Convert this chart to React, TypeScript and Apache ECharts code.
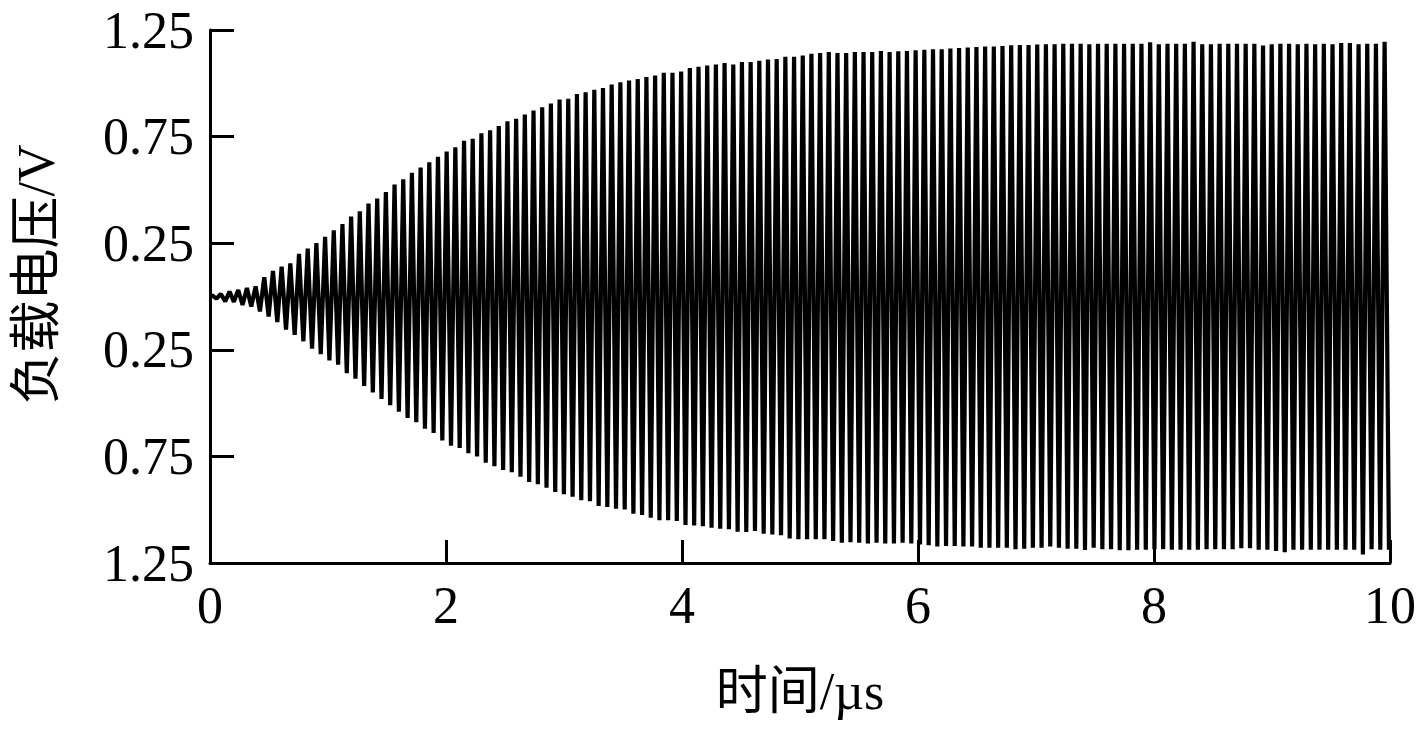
import React, { useEffect, useRef } from "react";
import * as echarts from "echarts";

// Oscillation period (µs) — 13.56 MHz carrier
const cyclePeriod = 0.0736;

// Positive peak of each cycle (V)
const upperPeaks = [
  0.005, 0.012,
  0.023, 0.03, 0.04, 0.047, 0.09, 0.12, 0.14, 0.155, 0.2, 0.225,
  0.25, 0.28, 0.31, 0.34, 0.375, 0.4, 0.436, 0.46, 0.49, 0.525,
  0.55, 0.58, 0.605, 0.63, 0.655, 0.68, 0.7, 0.73, 0.74, 0.765,
  0.78, 0.8,
  0.822, 0.834, 0.853, 0.872, 0.887, 0.905, 0.924, 0.928, 0.95, 0.958, 0.97,
  0.978, 0.994, 1.005, 1.013, 1.02, 1.03, 1.036, 1.049, 1.049, 1.055,
  1.072, 1.077, 1.083, 1.088, 1.095, 1.088, 1.1, 1.1, 1.106, 1.111,
  1.114, 1.124, 1.124, 1.13, 1.138, 1.142, 1.147, 1.142, 1.142, 1.147,
  1.147, 1.147, 1.152, 1.147, 1.15,
  1.152, 1.155, 1.157, 1.16, 1.16, 1.163, 1.165, 1.168, 1.17, 1.172,
  1.172, 1.175, 1.178, 1.18, 1.18, 1.182, 1.183, 1.183, 1.185, 1.185,
  1.186, 1.183, 1.186,
  1.186, 1.186, 1.186, 1.186, 1.186, 1.192, 1.183, 1.186, 1.186, 1.186,
  1.195, 1.183, 1.183, 1.186, 1.186, 1.186, 1.186, 1.186, 1.177, 1.183,
  1.186, 1.186, 1.183, 1.186, 1.183, 1.186, 1.183, 1.189, 1.189, 1.183,
  1.186, 1.186, 1.195,
];

// Negative peak of each cycle (V)
const lowerPeaks = [
  -0.01,
  -0.023, -0.025, -0.04, -0.047, -0.07, -0.094, -0.12, -0.155, -0.18, -0.21,
  -0.245, -0.27, -0.3, -0.32, -0.36, -0.385, -0.42, -0.45, -0.48, -0.51,
  -0.54, -0.57, -0.59, -0.62, -0.64, -0.675, -0.7, -0.71, -0.735, -0.75,
  -0.78,
  -0.796, -0.814, -0.824, -0.845, -0.87, -0.881, -0.897, -0.917, -0.928, -0.939,
  -0.955, -0.96, -0.983, -0.987, -0.995, -0.999, -1.019, -1.025, -1.038, -1.049,
  -1.049, -1.053, -1.072, -1.074, -1.077, -1.085, -1.089, -1.092, -1.103, -1.105,
  -1.1, -1.113, -1.116, -1.12, -1.135, -1.139,
  -1.139, -1.139, -1.139, -1.147, -1.155, -1.152, -1.155, -1.158, -1.155, -1.158,
  -1.158, -1.155, -1.158, -1.163,
  -1.167, -1.173, -1.17, -1.17, -1.173, -1.173, -1.178, -1.178, -1.178, -1.178,
  -1.186, -1.183, -1.178, -1.178, -1.173, -1.178, -1.183, -1.183, -1.189, -1.178,
  -1.186, -1.186,
  -1.19, -1.19, -1.188, -1.188, -1.186, -1.185, -1.188, -1.188, -1.188, -1.188,
  -1.186, -1.185, -1.186, -1.186, -1.181, -1.181, -1.188, -1.188, -1.194, -1.2,
  -1.188, -1.188, -1.188, -1.188, -1.188, -1.188, -1.188, -1.188, -1.21, -1.186,
  -1.188, -1.188,
];

const yTickValues = [-1.25, -0.75, -0.25, 0.25, 0.75, 1.25];
const xTickValues = [0, 2, 4, 6, 8, 10];

const xName = "时间/µs";
const yName = "负载电压/V";

const FONT = "'Times New Roman', 'Liberation Serif', 'Noto Sans CJK SC', serif";

export default function App() {
  const ref = useRef<HTMLDivElement>(null);

  useEffect(() => {
    if (!ref.current) return;
    const chart = echarts.init(ref.current, null, { renderer: "svg" });

    const data: [number, number][] = [[0, 0]];
    for (let k = 0; k < upperPeaks.length; k++) {
      data.push([(k + 0.25) * cyclePeriod, upperPeaks[k]]);
      if (k < lowerPeaks.length) data.push([(k + 0.75) * cyclePeriod, lowerPeaks[k]]);
    }

    chart.setOption({
      animation: false,
      backgroundColor: "#ffffff",
      grid: { left: 210, right: 29, top: 30, bottom: 171, containLabel: false },
      xAxis: {
        type: "value",
        min: 0,
        max: 10,
        interval: 2,
        name: xName,
        nameLocation: "middle",
        nameGap: 102,
        nameTextStyle: { fontFamily: FONT, fontSize: 52, color: "#000" },
        axisLine: { show: true, onZero: false, lineStyle: { color: "#000", width: 3 } },
        axisTick: { show: true, inside: true, length: 23, lineStyle: { color: "#000", width: 3 } },
        axisLabel: {
          fontFamily: FONT,
          fontSize: 52,
          color: "#000",
          margin: 16,
          customValues: xTickValues,
        },
        splitLine: { show: false },
      },
      yAxis: {
        type: "value",
        min: -1.25,
        max: 1.25,
        name: yName,
        nameLocation: "middle",
        nameGap: 148,
        nameRotate: 90,
        nameTextStyle: {
          fontFamily: FONT,
          fontSize: 52,
          color: "#000",
          padding: [0, 0, 0, 44],
        },
        axisLine: { show: true, onZero: false, lineStyle: { color: "#000", width: 3 } },
        axisTick: {
          show: true,
          inside: true,
          length: 24,
          lineStyle: { color: "#000", width: 3 },
          customValues: yTickValues,
        },
        axisLabel: {
          fontFamily: FONT,
          fontSize: 52,
          color: "#000",
          margin: 16,
          customValues: yTickValues,
          formatter: (v: number) => Math.abs(v).toFixed(2),
        },
        splitLine: { show: false },
      },
      series: [
        {
          type: "line",
          data,
          showSymbol: false,
          symbol: "none",
          clip: true,
          lineStyle: { color: "#000", width: 4.2, join: "bevel" },
        },
      ],
    });

    return () => chart.dispose();
  }, []);

  return (
    <div
      ref={ref}
      style={{ position: "fixed", left: 0, top: 0, width: 1419, height: 734, background: "#fff" }}
    />
  );
}
